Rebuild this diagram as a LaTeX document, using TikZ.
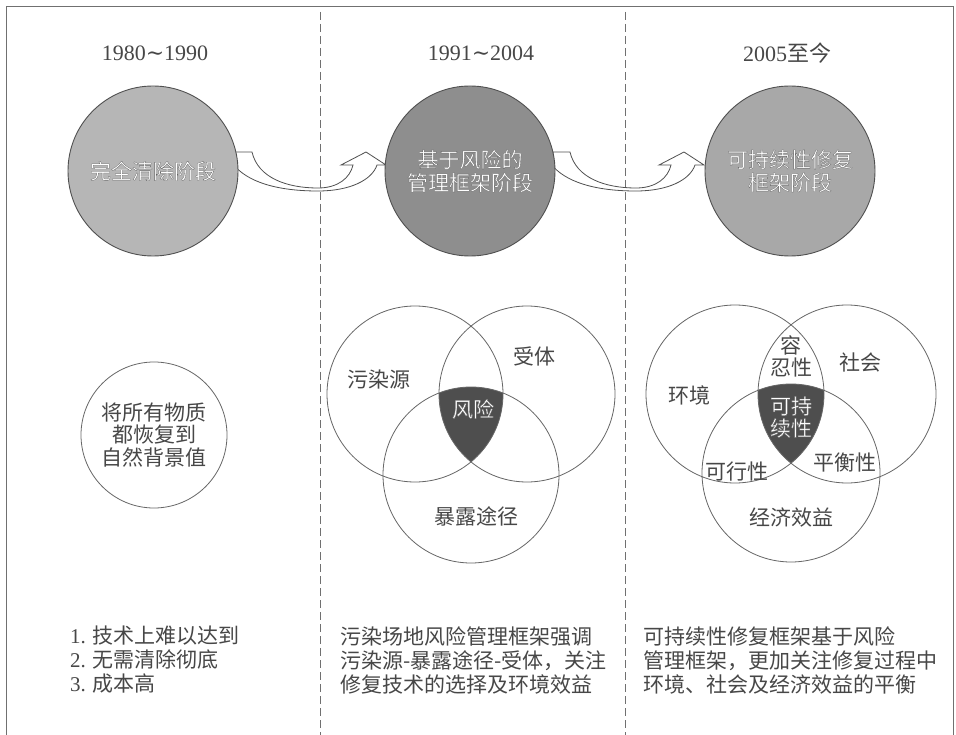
\documentclass[tikz,border=0pt]{standalone}
\usepackage{fontspec}
\newfontfamily\cjk{Noto Sans CJK SC}
\newfontfamily\lat{Liberation Serif}
\newfontfamily\dvs{DejaVu Serif}
\usetikzlibrary{calc}
\definecolor{txtgray}{HTML}{474747}
\definecolor{edgegray}{HTML}{505050}
\definecolor{venngray}{HTML}{666666}
\definecolor{divgray}{HTML}{707070}
\definecolor{phA}{HTML}{B6B6B6}
\definecolor{phB}{HTML}{8E8E8E}
\definecolor{phC}{HTML}{A8A8A8}
\definecolor{core}{HTML}{4E4E4E}
\newcommand\outlined[1]{\special{pdf:literal direct 2 Tr 0.4 G 0.3 w}#1\special{pdf:literal direct 0 Tr}}
\begin{document}
\begin{tikzpicture}[x=1pt,y=-1pt,
  txt/.style={font=\cjk\fontsize{21}{24}\selectfont, text=txtgray, inner sep=0pt},
  ttl/.style={font=\lat\fontsize{22}{26}\selectfont, text=txtgray, inner sep=0pt},
  phase/.style={circle, draw=edgegray, line width=0.9pt, minimum size=170pt, inner sep=0pt,
    font=\cjk\fontsize{21}{23}\selectfont, text=white, align=center},
  plaincirc/.style={circle, draw=venngray, line width=0.8pt, minimum size=146pt, inner sep=0pt,
    font=\cjk\fontsize{21}{22.5}\selectfont, text=txtgray, align=center},
  venn/.style={draw=venngray, line width=0.8pt},
  corelbl/.style={font=\cjk\fontsize{21}{22}\selectfont, text=white, inner sep=0pt, align=center},
  arrowshape/.style={draw=edgegray, fill=white, line width=0.8pt, line join=miter},
  divider/.style={draw=divgray, dash pattern=on 8pt off 4pt, line width=0.7pt},
  frame/.style={draw=divgray, line width=0.8pt},
  uarrow/.pic={\draw[arrowshape] (-2,0) -- (15,0)
      .. controls (21,26) and (50,36) .. (81,36)
      .. controls (101,36) and (113,26) .. (116,13) -- (104,13) -- (129,0) -- (149,13) -- (140,13)
      .. controls (135,28) and (113,39) .. (81,39)
      .. controls (40,39) and (10,30) .. (-4,12) -- cycle;}
]
\useasboundingbox (0,0) rectangle (956,735);
\fill[white] (0,0) rectangle (956,735);

% frame and dividers
\draw[frame] (6,760) -- (6,6) -- (953,6) -- (953,760);
\draw[divider] (320,12) -- (320,735);
\draw[divider] (625,12) -- (625,735);

% titles
\node[ttl] (t1) at (155,53) {1980{\dvs ∼}1990};
\node[ttl] (t2) at (481,53) {1991{\dvs ∼}2004};
\node[ttl] (t3) at (787,53) {2005{\cjk 至今}};

% phase circle centres
\coordinate (c1) at (153,171);
\coordinate (c2) at (470,171);
\coordinate (c3) at (790,171);

% hollow curved arrows
\path ($(c1)+(84,-19)$) pic {uarrow};
\path ($(c2)+(85,-19)$) pic {uarrow};

% phase circles
\node[phase, fill=phA] (p1) at (c1) {\outlined{完全清除阶段}};
\node[phase, fill=phB] (p2) at (c2) {\outlined{基于风险的\\管理框架阶段}};
\node[phase, fill=phC] (p3) at (c3) {\outlined{可持续性修复\\框架阶段}};

% first column goal circle
\node[plaincirc] (goal) at (154,435) {将所有物质\\都恢复到\\自然背景值};

% Venn 1
\coordinate (va) at (415,394);
\coordinate (vb) at (527,394);
\coordinate (vc) at (471,475);
\begin{scope}
  \clip (va) circle (88);
  \clip (vb) circle (88);
  \fill[core] (vc) circle (88);
\end{scope}
\draw[venn] (va) circle (88);
\draw[venn] (vb) circle (88);
\draw[venn] (vc) circle (88);
\node[txt] (src) at (379,380) {污染源};
\node[txt] (rec) at (534,356) {受体};
\node[corelbl] (risk) at (473,409) {\outlined{风险}};
\node[txt] (path) at (476,516) {暴露途径};

% Venn 2
\coordinate (wa) at (735,394);
\coordinate (wb) at (847,394);
\coordinate (wc) at (791,473);
\begin{scope}
  \clip (wa) circle (89);
  \clip (wb) circle (89);
  \fill[core] (wc) circle (89);
\end{scope}
\draw[venn] (wa) circle (89);
\draw[venn] (wb) circle (89);
\draw[venn] (wc) circle (89);
\node[txt] (env) at (689,395) {环境};
\node[txt] (soc) at (860,362) {社会};
\node[txt, align=center, font=\cjk\fontsize{21}{22}\selectfont] (tol) at (791,356) {容\\忍性};
\node[corelbl] (sus) at (791,417) {\outlined{可持\\续性}};
\node[txt] (fea) at (737,472) {可行性};
\node[txt] (bal) at (845,463) {平衡性};
\node[txt] (eco) at (791,518) {经济效益};

% bottom texts
\node[txt, align=left, anchor=west] (n1) at (70,660)
  {{\lat 1. }技术上难以达到\\{\lat 2. }无需清除彻底\\{\lat 3. }成本高};
\node[txt, align=left, anchor=west] (n2) at (340,660)
  {污染场地风险管理框架强调\\污染源-暴露途径-受体，关注\\修复技术的选择及环境效益};
\node[txt, align=left, anchor=west] (n3) at (643,660)
  {可持续性修复框架基于风险\\管理框架，更加关注修复过程中\\环境、社会及经济效益的平衡};
\end{tikzpicture}
\end{document}
